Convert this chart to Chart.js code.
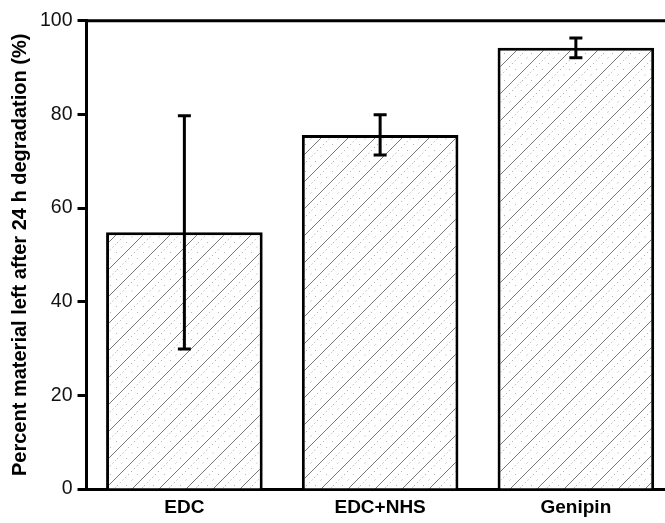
<!DOCTYPE html>
<html>
<head>
<meta charset="utf-8">
<script src="https://cdn.jsdelivr.net/npm/chart.js@4.4.0/dist/chart.umd.min.js"></script>
<style>
  html, body { margin: 0; padding: 0; background: #fff; overflow: hidden; }
  #wrap { width: 680px; height: 523px; }
</style>
</head>
<body>
<div id="wrap"><canvas id="chartBar" width="680" height="523"></canvas></div>
<script>
  var categorias = ["EDC", "EDC+NHS", "Genipin"];
  var medias = [54.8, 75.6, 94.2];
  var erros = [24.9, 4.3, 2.1];
  var rotuloY = "Percent material left after 24 h degradation (%)";

  // padrao hachurado: linhas diagonais cheias e pontilhadas
  function criarHachura(ctx) {
    var s = 27;
    var tile = document.createElement("canvas");
    tile.width = s;
    tile.height = s;
    var t = tile.getContext("2d");
    t.fillStyle = "#fff";
    t.fillRect(0, 0, s, s);
    function diagonal(d) {
      for (var k = -1; k <= 2; k++) {
        var c = d + k * s;
        t.beginPath();
        t.moveTo(c - s, s);
        t.lineTo(c, 0);
        t.stroke();
      }
    }
    t.lineWidth = 0.9;
    t.strokeStyle = "#666";
    diagonal(0);
    t.strokeStyle = "#888";
    t.setLineDash([1, 3]);
    diagonal(9);
    t.setLineDash([1, 7]);
    diagonal(18);
    return ctx.createPattern(tile, "repeat");
  }

  // barras de erro e moldura superior
  var pluginExtras = {
    id: "extras",
    afterDatasetsDraw: function (chart) {
      var ctx = chart.ctx;
      var x = chart.scales.x;
      var y = chart.scales.y;
      var area = chart.chartArea;
      ctx.save();
      ctx.strokeStyle = "#000";
      ctx.lineWidth = 3;
      ctx.beginPath();
      ctx.moveTo(area.left - 1.5, area.top);
      ctx.lineTo(chart.width, area.top);
      ctx.stroke();
      for (var i = 0; i < medias.length; i++) {
        var cx = x.getPixelForValue(i);
        var yTop = y.getPixelForValue(medias[i] + erros[i]);
        var yBot = y.getPixelForValue(medias[i] - erros[i]);
        ctx.beginPath();
        ctx.moveTo(cx, yTop);
        ctx.lineTo(cx, yBot);
        ctx.moveTo(cx - 6.5, yTop);
        ctx.lineTo(cx + 6.5, yTop);
        ctx.moveTo(cx - 6.5, yBot);
        ctx.lineTo(cx + 6.5, yBot);
        ctx.stroke();
      }
      ctx.restore();
    }
  };

  var ctxBar = document.getElementById("chartBar").getContext("2d");
  var configBar = {
    type: 'bar',
    data: {
      labels: categorias,
      datasets: [
        {
          data: medias,
          backgroundColor: criarHachura(ctxBar),
          borderColor: '#000',
          borderWidth: 3,
          borderSkipped: 'bottom',
          barPercentage: 0.8,
          categoryPercentage: 1.0
        }
      ]
    },
    options: {
      responsive: false,
      animation: false,
      devicePixelRatio: 1,
      layout: { padding: { top: 20.7, right: 6.25, bottom: 0, left: 0 } },
      plugins: {
        legend: { display: false },
        tooltip: { enabled: false }
      },
      scales: {
        x: {
          grid: { display: false, drawTicks: false },
          border: { display: true, color: '#000', width: 3 },
          ticks: {
            color: '#000',
            padding: 7,
            font: { family: 'Liberation Sans, Arial, sans-serif', size: 19, weight: 'bold' }
          },
          afterFit: function (s) { s.height = 34; }
        },
        y: {
          min: 0,
          max: 100,
          grid: { drawOnChartArea: false, tickLength: 9, tickWidth: 3, tickColor: '#000' },
          border: { display: true, color: '#000', width: 3 },
          ticks: {
            stepSize: 20,
            color: '#111',
            padding: 5,
            font: { family: 'Liberation Sans, Arial, sans-serif', size: 19.5 }
          },
          title: {
            display: true,
            text: rotuloY,
            color: '#000',
            padding: { top: 8, bottom: 0 },
            font: { family: 'Liberation Sans, Arial, sans-serif', size: 20, weight: 'bold' }
          },
          afterFit: function (s) { s.width = 86.5; }
        }
      }
    },
    plugins: [pluginExtras]
  };
  var graficoBarras = new Chart(ctxBar, configBar);
</script>
</body>
</html>
